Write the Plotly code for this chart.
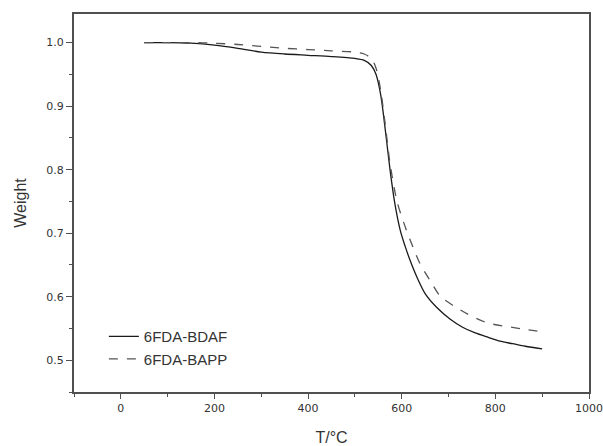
import plotly.graph_objects as go

# 6FDA-BDAF (solid)
t_bdaf = [50, 100, 150, 200, 250, 300, 350, 400, 450, 500, 520, 535, 545, 555, 565, 575, 585, 597,
          607, 618, 633, 650, 675, 703, 730, 757, 785, 810, 837, 864, 900]
w_bdaf = [1.000, 1.000, 0.999, 0.996, 0.991, 0.985, 0.982, 0.980, 0.978, 0.975, 0.972, 0.964, 0.950,
          0.918, 0.862, 0.800, 0.748, 0.704, 0.680, 0.657, 0.630, 0.605, 0.583, 0.565, 0.552, 0.543,
          0.536, 0.530, 0.526, 0.522, 0.518]

# 6FDA-BAPP (dashed)
t_bapp = [50, 100, 150, 200, 250, 300, 350, 400, 450, 500, 520, 535, 545, 555, 565, 575, 590, 605,
          624, 639, 661, 682, 710, 740, 782, 825, 868, 900]
w_bapp = [1.000, 1.000, 1.000, 0.999, 0.997, 0.994, 0.991, 0.989, 0.987, 0.985, 0.982, 0.975, 0.960,
          0.925, 0.870, 0.810, 0.750, 0.715, 0.678, 0.652, 0.625, 0.601, 0.586, 0.573, 0.559, 0.553,
          0.548, 0.545]

x_ticks = [0, 200, 400, 600, 800, 1000]
y_ticks = [0.5, 0.6, 0.7, 0.8, 0.9, 1.0]

FONT = "Arial, Liberation Sans, sans-serif"

fig = go.Figure()
fig.add_trace(go.Scatter(x=t_bdaf, y=w_bdaf, mode="lines", name="6FDA-BDAF",
                         line=dict(color="#1a1a1a", width=1.3, shape="spline", smoothing=0.8)))
fig.add_trace(go.Scatter(x=t_bapp, y=w_bapp, mode="lines", name="6FDA-BAPP",
                         line=dict(color="#555555", width=1.3, dash="dash", shape="spline", smoothing=0.8)))

axis_common = dict(showgrid=False, zeroline=False, showline=True, linecolor="#505050", linewidth=2,
                   mirror=True, ticks="outside", tickwidth=1.3, tickcolor="#505050", automargin=False,
                   tickfont=dict(family="DejaVu Sans, sans-serif", size=11, color="#333333"))

fig.update_xaxes(range=[-100, 1000], tickvals=x_ticks, ticktext=[str(v) for v in x_ticks], ticklen=5,
                 minor=dict(dtick=100, tick0=-100, ticks="outside", ticklen=3, tickcolor="#505050", tickwidth=1.3),
                 title=dict(text="T/°C", standoff=18, font=dict(family=FONT, size=16, color="#333333")),
                 **axis_common)
fig.update_yaxes(range=[0.45, 1.045], tickvals=y_ticks, ticktext=[f"{v:.1f}" for v in y_ticks], ticklen=6,
                 minor=dict(dtick=0.05, tick0=0.45, ticks="outside", ticklen=3, tickcolor="#505050", tickwidth=1.3),
                 title=dict(text="Weight", standoff=16, font=dict(family=FONT, size=16, color="#333333")),
                 **axis_common)

fig.update_layout(
    width=603, height=446,
    margin=dict(l=74, r=14, t=14, b=54),
    paper_bgcolor="white", plot_bgcolor="white",
    showlegend=True,
    legend=dict(x=0.058, y=0.19, xanchor="left", yanchor="top", bgcolor="rgba(0,0,0,0)",
                font=dict(family=FONT, size=15, color="#333333"),
                tracegroupgap=0, itemwidth=30),
)

fig.write_html("out.html")
